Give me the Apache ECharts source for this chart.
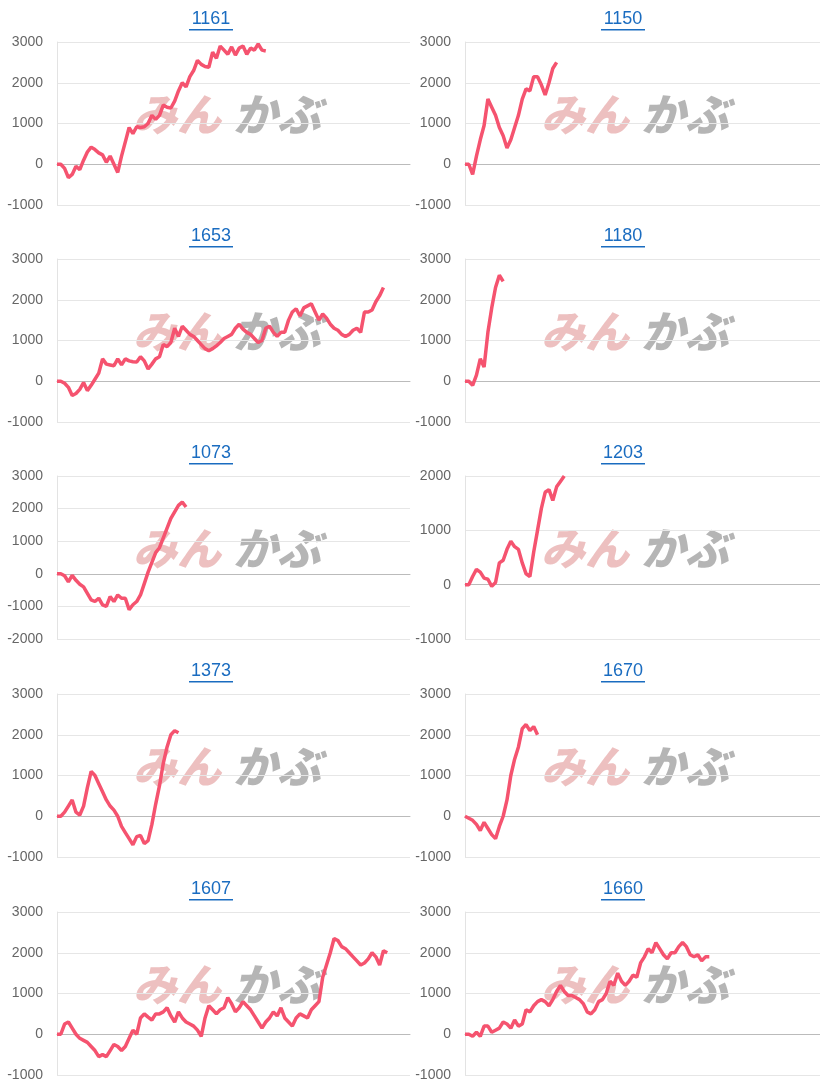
<!DOCTYPE html>
<html><head><meta charset="utf-8">
<script src="https://cdn.jsdelivr.net/npm/echarts@6/dist/echarts.min.js"></script>
<style>html,body{margin:0;padding:0;background:#fff}#c{width:820px;height:1090px}</style>
</head><body><div id="c"></div>
<script>
const titles = ['1161','1150','1653','1180','1073','1203','1373','1670','1607','1660'];
const s1161 = [0,0,-100,-330,-250,-50,-130,100,300,420,360,280,230,50,200,0,-200,200,550,900,750,920,900,920,1000,1200,1100,1200,1450,1400,1380,1550,1800,2000,1900,2150,2300,2550,2450,2400,2380,2750,2600,2900,2800,2700,2880,2680,2850,2900,2700,2850,2800,2950,2800,2780];
const s1150 = [0,0,-250,200,600,950,1600,1400,1200,900,700,400,600,900,1200,1600,1850,1800,2150,2150,1950,1700,2000,2350,2500];
const s1653 = [0,0,-50,-150,-350,-300,-200,-30,-230,-100,50,200,550,420,400,380,550,400,550,500,480,470,600,500,300,420,550,600,900,850,950,1300,1100,1350,1250,1150,1100,1000,900,800,750,800,870,950,1050,1100,1150,1300,1400,1280,1200,1150,1050,950,1000,1300,1350,1200,1100,1200,1200,1500,1700,1780,1600,1800,1850,1900,1700,1500,1650,1550,1400,1300,1250,1150,1100,1150,1250,1300,1200,1700,1700,1750,1950,2100,2300];
const s1180 = [0,0,-100,150,550,350,1200,1800,2300,2600,2450];
const s1073 = [0,0,-60,-250,-50,-200,-320,-400,-600,-800,-850,-750,-950,-1000,-700,-850,-650,-750,-750,-1100,-950,-850,-650,-300,50,350,650,800,1100,1400,1700,1900,2100,2200,2050];
const s1203 = [0,0,150,280,230,120,100,-30,40,400,450,650,800,700,650,400,200,150,600,1000,1400,1700,1750,1550,1800,1900,2000];
const s1373 = [0,0,100,250,400,100,30,250,700,1100,1000,800,600,400,250,150,0,-250,-400,-550,-700,-500,-470,-670,-600,-200,300,750,1300,1700,2000,2100,2050];
const s1670 = [0,-50,-100,-200,-350,-150,-300,-450,-550,-250,0,400,1000,1400,1700,2150,2250,2100,2200,2000];
const s1607 = [0,0,250,300,150,0,-100,-150,-200,-300,-400,-550,-500,-550,-400,-250,-300,-400,-300,-100,100,0,400,500,420,350,500,500,550,650,450,300,550,400,300,250,200,100,-50,400,700,600,500,600,650,900,750,550,650,800,700,600,450,300,150,300,400,550,450,650,400,300,200,400,500,450,400,600,700,800,1400,1700,2000,2350,2300,2150,2100,2000,1900,1800,1700,1750,1850,2000,1900,1700,2050,2000];
const s1660 = [0,0,-50,50,-50,200,200,50,100,150,300,250,150,350,200,250,600,550,700,800,850,800,700,850,1050,1200,1050,950,950,900,850,750,550,500,600,800,850,1000,1300,1200,1500,1300,1200,1300,1450,1400,1750,1900,2100,2000,2250,2100,1950,1850,2000,2000,2150,2250,2150,1950,1900,1950,1800,1900,1900];
const seriesData = [s1161,s1150,s1653,s1180,s1073,s1203,s1373,s1670,s1607,s1660];
const yMin = [-1000,-1000,-1000,-1000,-2000,-1000,-1000,-1000,-1000,-1000];
const yMax = [3000,3000,3000,3000,3000,2000,3000,3000,3000,3000];
const N = 94;
const cats = Array.from({length:N},(_,i)=>String(i+1));

const tops = [42,259,476,694,912];
const H = 163;
const grids=[],xAxes=[],yAxes=[],series=[],graphics=[];
for(let i=0;i<10;i++){
  const col=i%2,row=Math.floor(i/2);
  const left = col===0?57:465;
  const width = col===0?353:355;
  grids.push({left:left,top:tops[row],width:width,height:H});
  xAxes.push({type:'category',gridIndex:i,data:cats,boundaryGap:false,
    axisLine:{show:true,onZero:true,lineStyle:{color:'#bbb',width:1}},
    axisTick:{show:false},axisLabel:{show:false},splitLine:{show:false}});
  yAxes.push({type:'value',gridIndex:i,min:yMin[i],max:yMax[i],interval:1000,
    axisLine:{show:true,lineStyle:{color:'#e3e3e3'}},axisTick:{show:false},
    axisLabel:{color:'#666',fontSize:14,fontFamily:'Arial, Liberation Sans',margin:14,formatter:v=>String(v)},
    splitLine:{lineStyle:{color:'#e6e6e6'}}});
  series.push({type:'line',xAxisIndex:i,yAxisIndex:i,data:seriesData[i],showSymbol:false,
    lineStyle:{color:'#f5536f',width:3.5},itemStyle:{color:'#f5536f'},z:5,animation:false});
  const cx = col===0?211:623;
  const ty = tops[row]-23;
  graphics.push({type:'text',x:cx,y:ty,style:{text:titles[i],fill:'#1a6cc0',font:'18px Arial, Liberation Sans',align:'center',verticalAlign:'middle'}});
  graphics.push({type:'rect',shape:{x:cx-22,y:ty+10,width:44,height:1.4},style:{fill:'#1a6cc0'}});
  const wx = col===0?133:541;
  const wy = tops[row]+72;
  graphics.push({type:'text',x:wx,y:wy,z:-1,style:{text:'みん',fill:'rgba(225,150,150,0.6)',font:'italic 900 44px "Noto Sans CJK JP"',verticalAlign:'middle'}});
  graphics.push({type:'text',x:wx+100,y:wy,z:-1,style:{text:'かぶ',fill:'rgba(150,150,150,0.7)',font:'italic 900 44px "Noto Sans CJK JP"',verticalAlign:'middle'}});
}
const chart = echarts.init(document.getElementById('c'));
chart.setOption({animation:false,grid:grids,xAxis:xAxes,yAxis:yAxes,series:series,graphic:graphics});
</script></body></html>
